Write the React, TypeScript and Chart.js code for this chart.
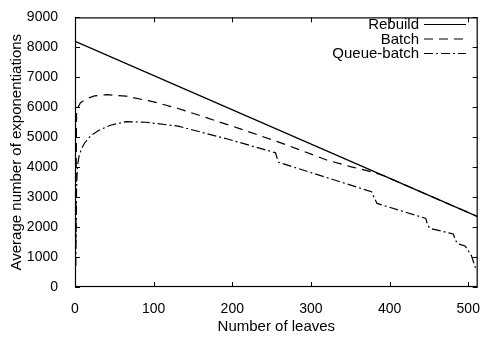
import React, { useEffect, useRef } from "react";
import { Chart, registerables } from "chart.js";

Chart.register(...registerables);

const seriesNames = ["Rebuild", "Batch", "Queue-batch"];

const rebuildX = [1, 512];
const rebuildY = [8190, 2350];

const batchX = [1, 2, 3, 7, 14, 25, 40, 65, 100, 131, 200, 260, 320, 350, 375, 392, 450, 512];
const batchY = [1500, 5900, 5960, 6150, 6280, 6380, 6420, 6370, 6180, 5960, 5370, 4830, 4240, 4020, 3860, 3721, 3058, 2350];

const queueX = [1, 2, 3, 5, 8, 12, 20, 31, 45, 65, 90, 131, 194, 255, 257, 259, 377, 380, 384, 446, 448, 451, 481, 484, 487, 496, 504, 509, 512];
const queueY = [700, 3300, 4000, 4350, 4600, 4800, 5050, 5240, 5400, 5520, 5500, 5370, 4940, 4480, 4300, 4160, 3180, 3000, 2790, 2290, 2100, 1960, 1770, 1550, 1440, 1370, 1050, 650, 550];

const xTicks = [0, 100, 200, 300, 400, 500];
const yTicks = [0, 1000, 2000, 3000, 4000, 5000, 6000, 7000, 8000, 9000];

const dashes: number[][] = [[], [9, 6], [9, 3, 2, 3]];

const FONT = "'Liberation Sans', Arial, sans-serif";

function pts(xs: number[], ys: number[]) {
  return xs.map((x, i) => ({ x, y: ys[i] }));
}

const framePlugin = {
  id: "frame",
  afterDraw(chart: any) {
    const ctx = chart.ctx;
    const { left, right, top, bottom } = chart.chartArea;
    const xs = chart.scales.x;
    const ys = chart.scales.y;
    ctx.save();
    ctx.strokeStyle = "#000";
    ctx.lineWidth = 1.2;
    ctx.setLineDash([]);
    ctx.strokeRect(left + 0.5, top + 0.5, right - left - 1, bottom - top - 1);
    const tl = 5;
    ctx.lineWidth = 1;
    ctx.beginPath();
    xTicks.forEach((v) => {
      const px = Math.round(xs.getPixelForValue(v)) + 0.5;
      ctx.moveTo(px, bottom);
      ctx.lineTo(px, bottom - tl);
      ctx.moveTo(px, top);
      ctx.lineTo(px, top + tl);
    });
    yTicks.forEach((v) => {
      const py = Math.round(ys.getPixelForValue(v)) + 0.5;
      ctx.moveTo(left, py);
      ctx.lineTo(left + tl, py);
      ctx.moveTo(right, py);
      ctx.lineTo(right - tl, py);
    });
    ctx.stroke();

    // legend
    ctx.font = "15px " + FONT;
    ctx.fillStyle = "#000";
    ctx.textAlign = "right";
    ctx.textBaseline = "middle";
    const rows = [24, 38.5, 53];
    seriesNames.forEach((name, i) => {
      ctx.fillText(name, 419, rows[i] + 1);
      ctx.beginPath();
      ctx.setLineDash(dashes[i]);
      ctx.lineWidth = 1.2;
      ctx.moveTo(424, rows[i] + 0.5);
      ctx.lineTo(466, rows[i] + 0.5);
      ctx.stroke();
    });
    ctx.restore();
  },
};

export default function App() {
  const ref = useRef<HTMLCanvasElement | null>(null);
  useEffect(() => {
    if (!ref.current) return;
    const datasets = [
      { label: seriesNames[0], data: pts(rebuildX, rebuildY) },
      { label: seriesNames[1], data: pts(batchX, batchY) },
      { label: seriesNames[2], data: pts(queueX, queueY) },
    ].map((d, i) => ({
      ...d,
      borderColor: "#000",
      backgroundColor: "#000",
      borderWidth: 1.2,
      borderDash: dashes[i],
      pointRadius: 0,
      showLine: true,
      fill: false,
      tension: 0,
    }));
    const chart = new Chart(ref.current, {
      type: "scatter",
      data: { datasets },
      options: {
        animation: false,
        responsive: false,
        maintainAspectRatio: false,
        layout: { padding: { top: 12, right: 3, left: 0, bottom: 0 } },
        plugins: { legend: { display: false }, tooltip: { enabled: false } },
        scales: {
          x: {
            type: "linear",
            min: 0,
            max: 512,
            grid: { display: false },
            border: { display: false },
            afterBuildTicks: (s: any) => {
              s.ticks = xTicks.map((v) => ({ value: v }));
            },
            afterFit: (s: any) => {
              s.height = 52;
            },
            ticks: {
              color: "#000",
              font: { family: FONT, size: 14 },
              padding: 6,
              maxRotation: 0,
              autoSkip: false,
              callback: (v: any) => String(v),
            },
            title: {
              display: true,
              text: "Number of leaves",
              color: "#000",
              font: { family: FONT, size: 15 },
              padding: { top: 2, bottom: 3 },
            },
          },
          y: {
            type: "linear",
            min: 0,
            max: 9000,
            grid: { display: false },
            border: { display: false },
            afterBuildTicks: (s: any) => {
              s.ticks = yTicks.map((v) => ({ value: v }));
            },
            afterFit: (s: any) => {
              s.width = 75;
            },
            ticks: {
              color: "#000",
              font: { family: FONT, size: 14 },
              padding: 9,
              autoSkip: false,
              callback: (v: any) => String(v),
            },
            title: {
              display: true,
              text: "Average number of exponentiations",
              color: "#000",
              font: { family: FONT, size: 15 },
              padding: { top: 8, bottom: 2 },
            },
          },
        },
      },
      plugins: [framePlugin],
    } as any);
    return () => chart.destroy();
  }, []);
  return (
    <div style={{ position: "fixed", left: 0, top: 0, width: 486, height: 339, background: "#fff" }}>
      <canvas ref={ref} width={486} height={339} style={{ width: 486, height: 339 }} />
    </div>
  );
}
